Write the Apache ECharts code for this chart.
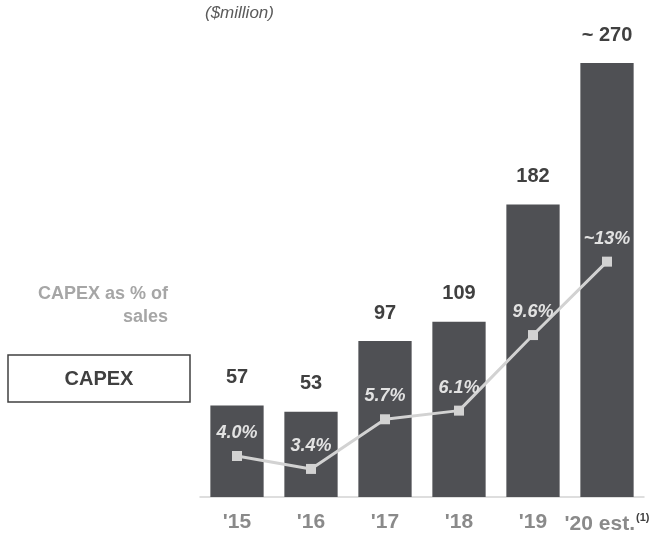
<!DOCTYPE html>
<html>
<head>
<meta charset="utf-8">
<script src="https://cdn.jsdelivr.net/npm/echarts@6/dist/echarts.min.js"></script>
<style>
  html, body { margin: 0; padding: 0; background: #fff; }
  #chart { width: 660px; height: 535px; }
</style>
</head>
<body>
<div id="chart"></div>
<script>
const years = ["'15", "'16", "'17", "'18", "'19", "'20 est."];
const capex = [57, 53, 97, 109, 182, 270];
const capexLabels = ['57', '53', '97', '109', '182', '~ 270'];
const pctSales = [4.0, 3.4, 5.7, 6.1, 9.6, 13];
const pctLabels = ['4.0%', '3.4%', '5.7%', '6.1%', '9.6%', '~13%'];

const font = 'Liberation Sans, Arial, sans-serif';
const chart = echarts.init(document.getElementById('chart'));

chart.setOption({
  animation: false,
  textStyle: { fontFamily: font },
  grid: { left: 200, right: 16, top: 63, bottom: 38 },
  xAxis: {
    type: 'category',
    data: years,
    axisTick: { show: false },
    axisLine: { lineStyle: { color: '#d4d4d4', width: 1.5 } },
    axisLabel: {
      interval: 0,
      margin: 15,
      color: '#8a8a8a',
      fontSize: 21,
      fontWeight: 'bold',
      formatter: v => v.indexOf('est') > 0 ? v + '{sup|(1)}' : v,
      rich: {
        sup: { fontSize: 11, fontWeight: 'bold', color: '#404040', verticalAlign: 'top', padding: [0, 0, 14, 1] }
      }
    }
  },
  yAxis: [
    { type: 'value', min: 0, max: 270, show: false },
    { type: 'value', min: 2.1, max: 22.2, show: false }
  ],
  series: [
    {
      type: 'bar',
      data: capex,
      barCategoryGap: '28%',
      itemStyle: { color: '#4f5054' },
      label: {
        show: true,
        position: 'top',
        distance: 18,
        fontSize: 20,
        fontWeight: 'bold',
        color: '#404040',
        formatter: p => capexLabels[p.dataIndex]
      }
    },
    {
      type: 'line',
      yAxisIndex: 1,
      data: pctSales,
      symbol: 'rect',
      symbolSize: 10,
      lineStyle: { color: '#d2d2d2', width: 3 },
      itemStyle: { color: '#d2d2d2' },
      label: {
        show: true,
        position: 'top',
        distance: 9,
        fontSize: 18,
        fontWeight: 'bold',
        fontStyle: 'italic',
        color: '#e2e2e2',
        formatter: p => pctLabels[p.dataIndex]
      }
    }
  ],
  graphic: [
    {
      type: 'text', left: 205, top: 5,
      style: { text: '($million)', font: 'italic 17px ' + font, fill: '#5a5a5a' }
    },
    {
      type: 'text', x: 168, y: 283,
      style: {
        text: 'CAPEX as % of\nsales', align: 'right', lineHeight: 23,
        font: 'bold 18px ' + font, fill: '#a6a6a6'
      }
    },
    {
      type: 'rect', shape: { x: 8, y: 355, width: 182, height: 47 },
      style: { fill: '#fff', stroke: '#404040', lineWidth: 1.5 }
    },
    {
      type: 'text', x: 99, y: 379,
      style: { text: 'CAPEX', align: 'center', verticalAlign: 'middle', font: 'bold 20px ' + font, fill: '#404040' }
    }
  ]
});
</script>
</body>
</html>
